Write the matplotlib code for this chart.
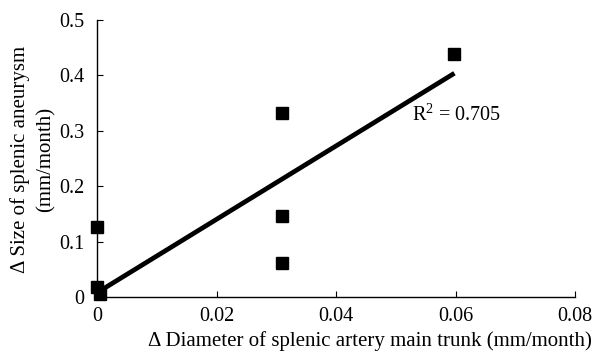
import matplotlib
matplotlib.use("Agg")
import matplotlib.pyplot as plt

# data
diam_change = [0.0, 0.0, 0.0005, 0.031, 0.031, 0.031, 0.0598]
size_change = [0.126, 0.018, 0.005, 0.332, 0.147, 0.062, 0.439]
fit_x = [0.0005, 0.0598]
fit_y = [0.011, 0.404]
r2_label = r"R$^2$ = 0.705"
x_ticks = [0, 0.02, 0.04, 0.06, 0.08]
x_tick_labels = ["0", "0.02", "0.04", "0.06", "0.08"]
y_ticks = [0, 0.1, 0.2, 0.3, 0.4, 0.5]
y_tick_labels = ["0", "0.1", "0.2", "0.3", "0.4", "0.5"]

plt.rcParams['font.family'] = ['Liberation Serif', 'DejaVu Serif']
plt.rcParams['mathtext.fontset'] = 'custom'
plt.rcParams['mathtext.rm'] = 'Liberation Serif'
plt.rcParams['mathtext.it'] = 'Liberation Serif'
plt.rcParams['mathtext.default'] = 'rm'

fig = plt.figure(figsize=(5.94, 3.58), dpi=100)
ax = fig.add_axes([0.1633, 0.1704, 0.805, 0.7736])

ax.plot(fit_x, fit_y, color='black', lw=3.4, solid_capstyle='butt', zorder=2)
ax.plot(diam_change, size_change, linestyle='none', marker='s', markersize=9,
        color='black', zorder=3, clip_on=False)

ax.text(0.0527, 0.328, r2_label, fontsize=14.5, va='center', ha='left')

ax.set_xlim(0, 0.08)
ax.set_ylim(0, 0.5)
ax.set_xticks(x_ticks)
ax.set_xticklabels(x_tick_labels)
ax.set_yticks(y_ticks)
ax.set_yticklabels(y_tick_labels)
ax.tick_params(direction='in', length=4, width=0.8, labelsize=14.5)
ax.tick_params(axis='x', pad=7)
ax.tick_params(axis='y', pad=9)
for s in ['top', 'right']:
    ax.spines[s].set_visible(False)
for s in ['left', 'bottom']:
    ax.spines[s].set_linewidth(1.0)

ax.set_xlabel("Δ Diameter of splenic artery main trunk (mm/month)", fontsize=15)
ax.xaxis.set_label_coords(0.571, -0.122)
ax.set_ylabel("Δ Size of splenic aneurysm\n(mm/month)", fontsize=15,
              linespacing=1.5)
ax.yaxis.set_label_coords(-0.086, 0.495)

fig.savefig("out.png", dpi=100)
